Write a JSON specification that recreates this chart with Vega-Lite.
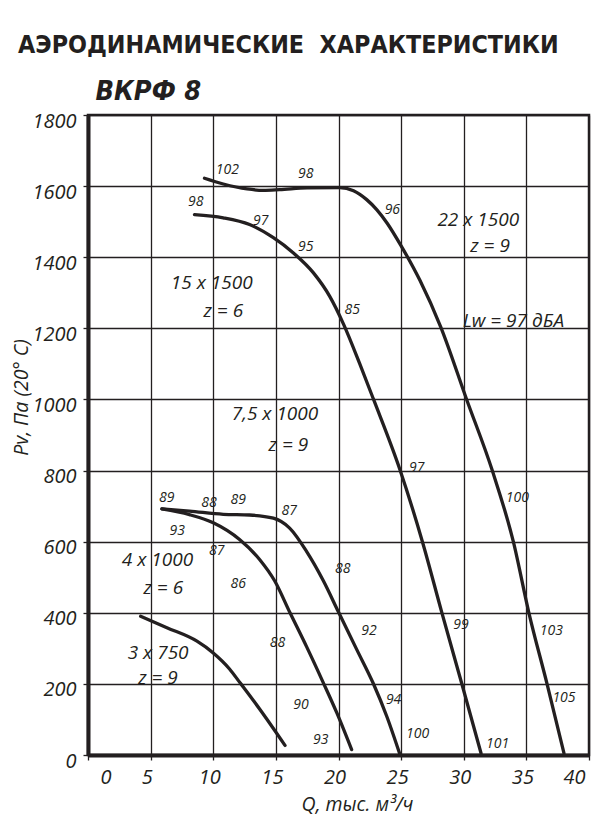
{
  "$schema": "https://vega.github.io/schema/vega-lite/v6.json",
  "autosize": "none",
  "padding": {"left": 88, "top": 115, "right": 15, "bottom": 73},
  "width": 501,
  "height": 640,
  "background": "white",
  "title": {
    "text": "АЭРОДИНАМИЧЕСКИЕ\u00a0 ХАРАКТЕРИСТИКИ",
    "anchor": "start",
    "frame": "group",
    "dx": -70,
    "offset": 19,
    "font": "'DejaVu Sans Condensed', 'Liberation Sans Narrow', sans-serif",
    "fontSize": 24.8,
    "fontWeight": "bold",
    "color": "#231f20"
  },
  "config": {
    "view": {"stroke": "#231f20", "strokeWidth": 2.5},
    "axis": {
      "labelFont": "Open Sans",
      "labelFontStyle": "italic",
      "labelFontSize": 20,
      "labelColor": "#231f20",
      "titleFont": "Open Sans",
      "titleFontStyle": "italic",
      "titleFontWeight": "normal",
      "titleFontSize": 19.5,
      "titleColor": "#231f20"
    }
  },
  "datasets": {
    "curves": [
      {"curve": "22x1500", "q": 9.3, "p": 1622},
      {"curve": "22x1500", "q": 10.8, "p": 1606},
      {"curve": "22x1500", "q": 12.7, "p": 1592},
      {"curve": "22x1500", "q": 14.0, "p": 1588},
      {"curve": "22x1500", "q": 15.3, "p": 1590},
      {"curve": "22x1500", "q": 17.5, "p": 1595},
      {"curve": "22x1500", "q": 20.1, "p": 1596},
      {"curve": "22x1500", "q": 21.2, "p": 1587},
      {"curve": "22x1500", "q": 22.25, "p": 1562},
      {"curve": "22x1500", "q": 23.05, "p": 1534},
      {"curve": "22x1500", "q": 23.9, "p": 1495},
      {"curve": "22x1500", "q": 25.0, "p": 1432},
      {"curve": "22x1500", "q": 26.5, "p": 1335},
      {"curve": "22x1500", "q": 28.15, "p": 1205},
      {"curve": "22x1500", "q": 30.23, "p": 1000},
      {"curve": "22x1500", "q": 32.28, "p": 800},
      {"curve": "22x1500", "q": 33.96, "p": 600},
      {"curve": "22x1500", "q": 35.2, "p": 400},
      {"curve": "22x1500", "q": 36.65, "p": 200},
      {"curve": "22x1500", "q": 38.0, "p": 5},
      {"curve": "15x1500", "q": 8.5, "p": 1520},
      {"curve": "15x1500", "q": 10.8, "p": 1511},
      {"curve": "15x1500", "q": 12.9, "p": 1492},
      {"curve": "15x1500", "q": 14.8, "p": 1455},
      {"curve": "15x1500", "q": 16.4, "p": 1412},
      {"curve": "15x1500", "q": 18.0, "p": 1356},
      {"curve": "15x1500", "q": 19.3, "p": 1290},
      {"curve": "15x1500", "q": 20.4, "p": 1212},
      {"curve": "15x1500", "q": 21.7, "p": 1100},
      {"curve": "15x1500", "q": 22.8, "p": 1000},
      {"curve": "15x1500", "q": 24.9, "p": 803},
      {"curve": "15x1500", "q": 26.7, "p": 600},
      {"curve": "15x1500", "q": 28.24, "p": 402},
      {"curve": "15x1500", "q": 29.84, "p": 201},
      {"curve": "15x1500", "q": 31.38, "p": 5},
      {"curve": "7.5x1000", "q": 5.9, "p": 692},
      {"curve": "7.5x1000", "q": 8.1, "p": 686},
      {"curve": "7.5x1000", "q": 10.8, "p": 677},
      {"curve": "7.5x1000", "q": 12.9, "p": 675},
      {"curve": "7.5x1000", "q": 14.8, "p": 666},
      {"curve": "7.5x1000", "q": 16.1, "p": 638},
      {"curve": "7.5x1000", "q": 17.46, "p": 572},
      {"curve": "7.5x1000", "q": 18.79, "p": 490},
      {"curve": "7.5x1000", "q": 20.0, "p": 402},
      {"curve": "7.5x1000", "q": 21.45, "p": 297},
      {"curve": "7.5x1000", "q": 22.78, "p": 201},
      {"curve": "7.5x1000", "q": 23.85, "p": 109},
      {"curve": "7.5x1000", "q": 24.9, "p": 2},
      {"curve": "4x1000", "q": 5.9, "p": 692},
      {"curve": "4x1000", "q": 8.1, "p": 676},
      {"curve": "4x1000", "q": 10.0, "p": 653},
      {"curve": "4x1000", "q": 12.1, "p": 606},
      {"curve": "4x1000", "q": 13.7, "p": 550},
      {"curve": "4x1000", "q": 14.9, "p": 490},
      {"curve": "4x1000", "q": 16.13, "p": 400},
      {"curve": "4x1000", "q": 17.46, "p": 304},
      {"curve": "4x1000", "q": 18.79, "p": 203},
      {"curve": "4x1000", "q": 19.86, "p": 119},
      {"curve": "4x1000", "q": 21.05, "p": 15},
      {"curve": "3x750", "q": 4.2, "p": 390},
      {"curve": "3x750", "q": 6.3, "p": 358},
      {"curve": "3x750", "q": 8.7, "p": 320},
      {"curve": "3x750", "q": 10.0, "p": 287},
      {"curve": "3x750", "q": 11.3, "p": 242},
      {"curve": "3x750", "q": 12.14, "p": 203},
      {"curve": "3x750", "q": 13.73, "p": 128},
      {"curve": "3x750", "q": 15.73, "p": 27}
    ],
    "small": [
      {"q": 11.12, "p": 1644, "label": "102"},
      {"q": 17.38, "p": 1635, "label": "98"},
      {"q": 8.6, "p": 1556, "label": "98"},
      {"q": 13.79, "p": 1501, "label": "97"},
      {"q": 17.38, "p": 1429, "label": "95"},
      {"q": 24.3, "p": 1534, "label": "96"},
      {"q": 21.1, "p": 1251, "label": "85"},
      {"q": 26.24, "p": 808, "label": "97"},
      {"q": 34.28, "p": 723, "label": "100"},
      {"q": 6.28, "p": 723, "label": "89"},
      {"q": 9.66, "p": 709, "label": "88"},
      {"q": 12.0, "p": 717, "label": "89"},
      {"q": 16.07, "p": 686, "label": "87"},
      {"q": 7.13, "p": 629, "label": "93"},
      {"q": 10.27, "p": 573, "label": "87"},
      {"q": 12.0, "p": 480, "label": "86"},
      {"q": 20.33, "p": 524, "label": "88"},
      {"q": 22.43, "p": 348, "label": "92"},
      {"q": 15.12, "p": 314, "label": "88"},
      {"q": 17.0, "p": 142, "label": "90"},
      {"q": 18.58, "p": 42, "label": "93"},
      {"q": 24.4, "p": 154, "label": "94"},
      {"q": 29.78, "p": 365, "label": "99"},
      {"q": 37.0, "p": 350, "label": "103"},
      {"q": 38.0, "p": 161, "label": "105"},
      {"q": 26.32, "p": 58, "label": "100"},
      {"q": 32.7, "p": 32, "label": "101"}
    ],
    "big": [
      {"q": 9.88, "p": 1328, "label": "15 x 1500"},
      {"q": 10.8, "p": 1248, "label": "z = 6"},
      {"q": 31.16, "p": 1506, "label": "22 x 1500"},
      {"q": 32.1, "p": 1431, "label": "z = 9"},
      {"q": 33.96, "p": 1220, "label": "Lw = 97 дБА"},
      {"q": 14.93, "p": 958, "label": "7,5 x 1000"},
      {"q": 16.0, "p": 871, "label": "z = 9"},
      {"q": 5.55, "p": 549, "label": "4 x 1000"},
      {"q": 6.01, "p": 470, "label": "z = 6"},
      {"q": 5.6, "p": 288, "label": "3 x 750"},
      {"q": 5.59, "p": 216, "label": "z = 9"}
    ]
  },
  "layer": [
    {
      "data": {"name": "curves"},
      "mark": {"type": "line", "color": "#231f20", "strokeWidth": 3.3, "interpolate": "monotone", "strokeCap": "round", "clip": false},
      "encoding": {
        "x": {
          "field": "q", "type": "quantitative",
          "scale": {"domain": [0, 40], "nice": false, "zero": false},
          "axis": {
            "orient": "bottom",
            "values": [0, 5, 10, 15, 20, 25, 30, 35, 40],
            "format": "d",
            "labelFont": "Open Sans", "labelFontStyle": "italic", "labelFontSize": 20,
            "title": "Q, тыс. м³/ч",
            "titleX": 269, "titleY": 55, "titleAlign": "center", "titleBaseline": "alphabetic",
            "grid": true, "gridColor": "#231f20", "gridWidth": 1.3, "gridOpacity": 1,
            "ticks": true, "tickSize": 5, "tickColor": "#231f20", "tickWidth": 1.3,
            "domain": true, "domainColor": "#231f20", "domainWidth": 4,
            "labelPadding": 7,
            "labelOffset": {"condition": {"test": "datum.value == 0", "value": 12}, "value": -4}
          }
        },
        "y": {
          "field": "p", "type": "quantitative",
          "scale": {"domain": [0, 1800], "nice": false},
          "axis": {
            "values": [0, 200, 400, 600, 800, 1000, 1200, 1400, 1600, 1800],
            "format": "d",
            "labelFont": "Open Sans", "labelFontStyle": "italic", "labelFontSize": 20,
            "title": "Pv, Па (20° C)",
            "titleX": -61, "titleY": 282, "titleAngle": -90, "titleAlign": "center", "titleBaseline": "alphabetic",
            "grid": true, "gridColor": "#231f20", "gridWidth": 1.3, "gridOpacity": 1,
            "ticks": true, "tickSize": 5, "tickColor": "#231f20", "tickWidth": 1.3,
            "domain": true, "domainColor": "#231f20", "domainWidth": 4,
            "labelPadding": 7, "labelOffset": 6
          }
        },
        "detail": {"field": "curve", "type": "nominal"}
      }
    },
    {
      "data": {"name": "small"},
      "mark": {"type": "text", "font": "Open Sans", "fontStyle": "italic", "fontSize": 14, "color": "#231f20", "align": "center", "baseline": "middle", "clip": false},
      "encoding": {
        "x": {
          "field": "q", "type": "quantitative",
          "axis": {
            "orient": "top", "labels": false, "ticks": false, "domain": false, "grid": false,
            "title": "ВКРФ 8",
            "titleX": 7, "titleY": -16, "titleAlign": "left", "titleBaseline": "alphabetic",
            "titleFont": "'DejaVu Sans Condensed', 'Liberation Sans Narrow', sans-serif",
            "titleFontSize": 27, "titleFontWeight": "bold", "titleFontStyle": "italic"
          }
        },
        "y": {"field": "p", "type": "quantitative", "axis": null},
        "text": {"field": "label", "type": "nominal"}
      }
    },
    {
      "data": {"name": "big"},
      "mark": {"type": "text", "font": "Open Sans", "fontStyle": "italic", "fontSize": 19, "color": "#231f20", "align": "center", "baseline": "middle", "clip": false},
      "encoding": {
        "x": {"field": "q", "type": "quantitative", "axis": null},
        "y": {"field": "p", "type": "quantitative", "axis": null},
        "text": {"field": "label", "type": "nominal"}
      }
    }
  ],
  "resolve": {"axis": {"x": "independent", "y": "independent"}}
}
